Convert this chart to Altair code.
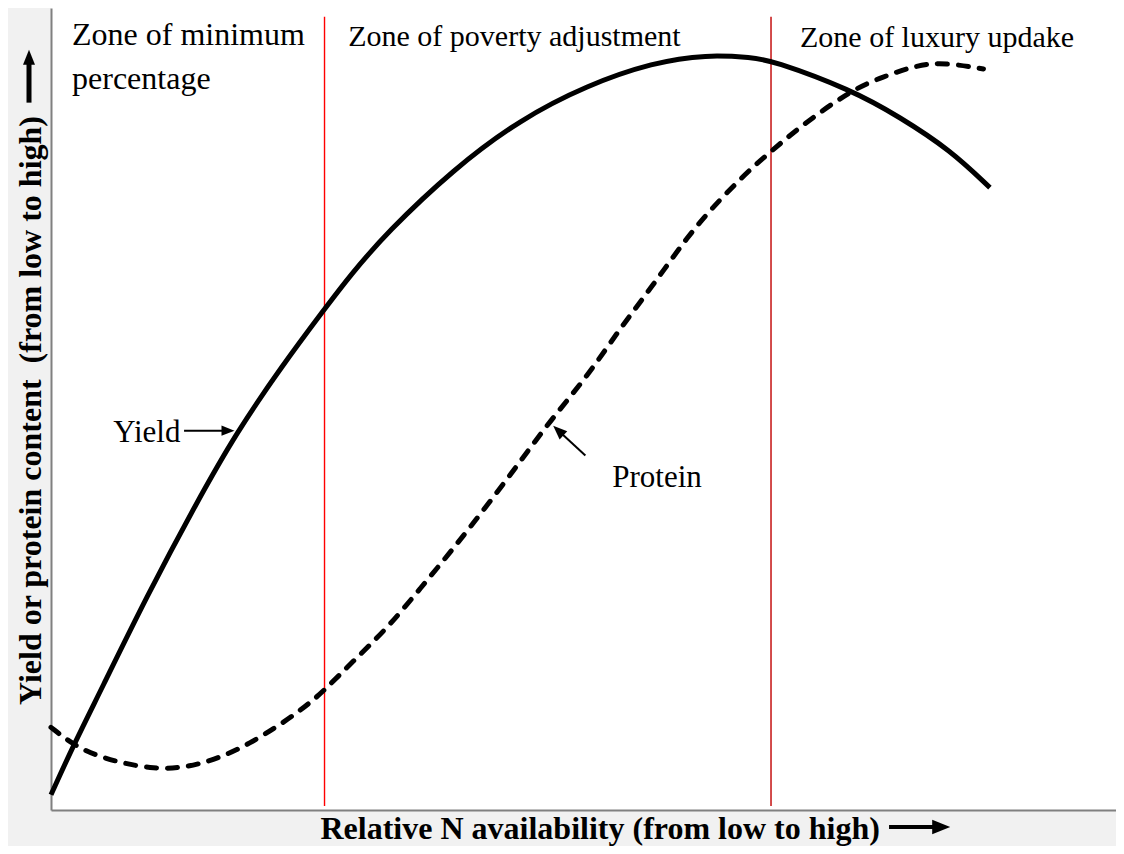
import altair as alt
import pandas as pd

# ---- data (relative units, 0-100) ----
yield_n = [0, 2.1, 4.6, 8.9, 13.6, 17.3, 21.6, 25.4, 27.9, 31.3, 37.5, 43.7, 50.0,
           56.1, 61.1, 65.4, 67.1, 74.6, 79.1, 83.8, 87.5]
yield_v = [1.9, 8.1, 14.8, 26.6, 38.4, 47.1, 55.5, 62.3, 66.7, 72.0, 79.9, 86.1, 90.4,
           93.2, 94.2, 93.8, 93.5, 89.8, 86.4, 82.3, 77.6]

protein_n = [0, 2.1, 4.6, 9.7, 13.9, 18.5, 23.2, 25.4, 28.1, 31.3, 34.4, 37.5,
             40.6, 43.7, 46.5, 50.0, 53.0, 56.1, 59.3, 62.3, 65.4, 67.1, 69.8,
             74.6, 77.5, 80.7, 83.3, 86.9]
protein_v = [10.3, 8.1, 6.5, 4.9, 5.5, 8.1, 12.3, 14.8, 18.5, 22.6, 27.6, 32.6,
             37.9, 43.4, 48.5, 54.1, 60.0, 65.4, 71.5, 76.1, 80.2, 82.1, 85.2,
             89.8, 91.4, 92.9, 93.2, 92.4]

zone_bounds = [25.49, 67.1]
zone_colors = ["#ff0000", "#c00000"]
zone_bottom = [0.5, 0.5]
zone_top = [98.9, 98.9]

label_text = ["Zone of minimum", "percentage", "Zone of poverty adjustment",
              "Zone of luxury updake", "Yield", "Protein"]
label_x = [1.96, 1.96, 27.7, 69.8, 5.8, 52.3]
label_y = [95.4, 89.9, 95.3, 95.1, 45.9, 40.3]
label_size = [32, 32, 30, 30, 31, 31]

# arrows: tail, shaft end, tip
arrow_tail_x = [12.4, 49.8, 78.1, -2.05]
arrow_tail_y = [47.3, 44.2, -2.12, 88.2]
arrow_end_x = [16.4, 47.3, 82.5, -2.05]
arrow_end_y = [47.3, 47.3, -2.12, 93.5]
arrow_tip_x = [17.1, 46.8, 83.8, -2.05]
arrow_tip_y = [47.3, 47.9, -2.12, 94.8]
arrow_width = [2, 2, 4, 5]
arrow_head_size = [676, 784, 1296, 900]
arrow_head_angle = [0, 223, 0, 270]

x_title = "Relative N availability (from low to high)"
y_title = "Yield or protein content\u00a0 (from low to high)"

FONT = "Liberation Serif"

# ---- tables ----
yield_df = pd.DataFrame({"x": yield_n, "y": yield_v})
protein_df = pd.DataFrame({"x": protein_n, "y": protein_v})
zone_df = pd.DataFrame({"x": zone_bounds, "y": zone_bottom, "y2": zone_top, "c": zone_colors})
label_df = pd.DataFrame({"x": label_x, "y": label_y, "t": label_text, "fs": label_size})
arrow_df = pd.DataFrame({"x": arrow_tail_x, "y": arrow_tail_y,
                         "x2": arrow_end_x, "y2": arrow_end_y, "w": arrow_width})
head_df = pd.DataFrame({"x": arrow_tip_x, "y": arrow_tip_y,
                        "s": arrow_head_size, "a": arrow_head_angle})

xs = alt.Scale(domain=[0, 99.25], nice=False, zero=False)
ys = alt.Scale(domain=[0, 100], nice=False, zero=False)

xaxis = alt.Axis(title=x_title, ticks=False, labels=False, grid=False,
                 domainColor="#808080", domainWidth=2,
                 titleFont=FONT, titleFontSize=32, titleFontWeight="bold",
                 titleColor="black", titleX=269, titleY=28,
                 titleAlign="left", titleBaseline="alphabetic")
yaxis = alt.Axis(title=y_title, ticks=False, labels=False, grid=False,
                 domainColor="#808080", domainWidth=2,
                 titleFont=FONT, titleFontSize=32, titleFontWeight="bold",
                 titleColor="black", titleX=-11, titleY=402, titleAngle=270,
                 titleAlign="center", titleBaseline="alphabetic")

X = alt.X("x:Q", scale=xs, axis=xaxis, title=x_title)
Y = alt.Y("y:Q", scale=ys, axis=yaxis, title=y_title)

zones = alt.Chart(zone_df).mark_rule(strokeWidth=1.4).encode(
    x=X, y=Y, y2="y2:Q", color=alt.Color("c:N", scale=None))

yield_line = alt.Chart(yield_df).mark_line(
    color="black", strokeWidth=5, interpolate="basis").encode(x=X, y=Y)

protein_line = alt.Chart(protein_df).mark_line(
    color="black", strokeWidth=5, interpolate="basis",
    strokeDash=[10, 11], strokeCap="round").encode(x=X, y=Y)

labels = alt.Chart(label_df).mark_text(
    font=FONT, color="black", align="left", baseline="alphabetic").encode(
    x=X, y=Y, text="t:N", size=alt.Size("fs:Q", scale=None))

shafts = alt.Chart(arrow_df).mark_rule(color="black").encode(
    x=X, y=Y, x2="x2:Q", y2="y2:Q",
    strokeWidth=alt.StrokeWidth("w:Q", scale=None))

heads = alt.Chart(head_df).mark_point(
    shape="M0,0L-1,-0.4L-1,0.4Z", filled=True, color="black",
    opacity=1, strokeWidth=0).encode(
    x=X, y=Y,
    size=alt.Size("s:Q", scale=None),
    angle=alt.Angle("a:Q", scale=None))

chart = alt.layer(zones, yield_line, protein_line, labels, shafts, heads).properties(
    width=1065, height=802,
    background="#f1f1f1",
    autosize=alt.AutoSizeParams(type="none"),
    padding={"left": 43, "top": 0, "right": 0, "bottom": 36},
).configure_view(stroke=None, fill="white")

chart.save("out.html", embed_options={"renderer": "svg", "actions": False})
